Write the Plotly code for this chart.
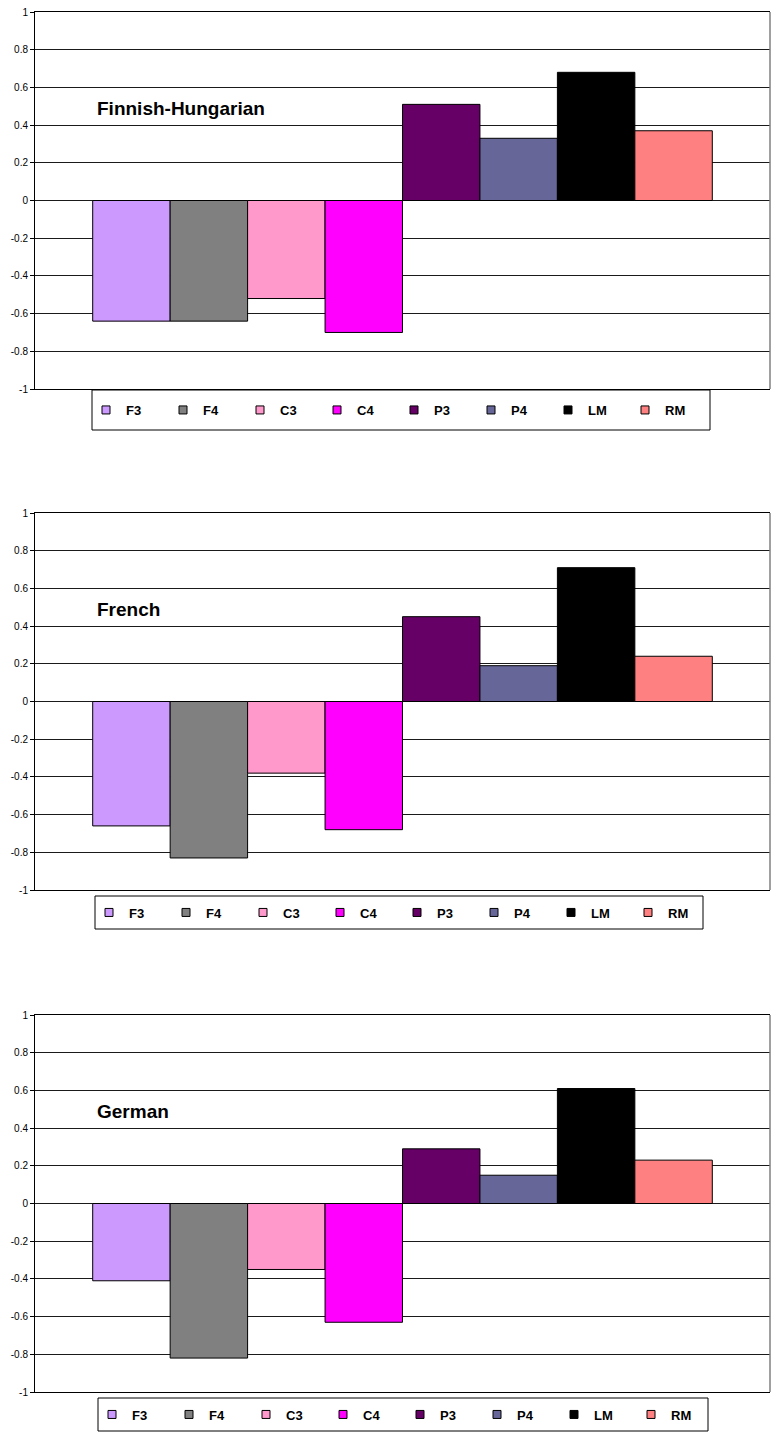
import plotly.graph_objects as go

# Electrode sites and their fill colours
electrodes = ["F3", "F4", "C3", "C4", "P3", "P4", "LM", "RM"]
colors = ["#CC99FF", "#808080", "#FF99CC", "#FF00FF",
          "#660066", "#666699", "#000000", "#FF8080"]

# One panel per language group
languages = ["Finnish-Hungarian", "French", "German"]
finnish_hungarian = [-0.64, -0.64, -0.52, -0.70, 0.51, 0.33, 0.68, 0.37]
french = [-0.66, -0.83, -0.38, -0.68, 0.45, 0.19, 0.71, 0.24]
german = [-0.41, -0.82, -0.35, -0.63, 0.29, 0.15, 0.61, 0.23]
panel_values = [finnish_hungarian, french, german]

tick_values = [-1, -0.8, -0.6, -0.4, -0.2, 0, 0.2, 0.4, 0.6, 0.8, 1]
tick_labels = ["-1", "-0.8", "-0.6", "-0.4", "-0.2", "0",
               "0.2", "0.4", "0.6", "0.8", "1"]

W, H = 773, 1437
PLOT_LEFT, PLOT_RIGHT = 35, 770
PLOT_TOP, PLOT_BOTTOM = 12, 1392

# Pixel rows of each panel (top, bottom)
panel_rows = [(12, 389), (513, 890), (1015, 1392)]
# Legend frames in pixels: (left, top, right, bottom)
legend_frames = [(92, 390, 710, 430), (95, 896, 703, 929), (98, 1398, 708, 1431)]


def fy(px):
    return (PLOT_BOTTOM - px) / (PLOT_BOTTOM - PLOT_TOP)


def fx(px):
    return (px - PLOT_LEFT) / (PLOT_RIGHT - PLOT_LEFT)


FONT = "Arial, 'Liberation Sans', sans-serif"
GRID = "#1a1a1a"

fig = go.Figure()
layout = dict(
    width=W, height=H,
    margin=dict(l=PLOT_LEFT, r=W - PLOT_RIGHT, t=PLOT_TOP, b=H - PLOT_BOTTOM, pad=0),
    paper_bgcolor="white", plot_bgcolor="white",
    barmode="group", bargap=0.157, bargroupgap=0,
    font=dict(family=FONT, color="black"),
    showlegend=True,
)
annotations = []
shapes = []

for i, (lang, vals) in enumerate(zip(languages, panel_values)):
    k = "" if i == 0 else str(i + 1)
    xa, ya = "x" + k, "y" + k
    leg = "legend" + k

    for name, col, v in zip(electrodes, colors, vals):
        fig.add_trace(go.Bar(
            x=[lang], y=[v], name=name, xaxis=xa, yaxis=ya,
            marker=dict(color=col, line=dict(color="black", width=1)),
            showlegend=False, hoverinfo="name+y",
        ))
    # legend keys: small outlined squares
    for name, col in zip(electrodes, colors):
        fig.add_trace(go.Scatter(
            x=[None], y=[None], mode="markers", name=name, xaxis=xa, yaxis=ya,
            marker=dict(symbol="square", size=8, color=col,
                        line=dict(color="black", width=1)),
            legend=leg, showlegend=True,
        ))

    top, bottom = panel_rows[i]
    layout["xaxis" + k] = dict(
        domain=[0, 1], anchor=ya, showticklabels=False, ticks="",
        showgrid=False, showline=True, mirror=True, linecolor="black",
        linewidth=1, zeroline=False, fixedrange=True,
    )
    layout["yaxis" + k] = dict(
        domain=[fy(bottom), fy(top)], anchor=xa, range=[-1, 1],
        tickmode="array", tickvals=tick_values, ticktext=tick_labels,
        ticks="outside", ticklen=4, tickcolor="black", tickwidth=1,
        tickfont=dict(family=FONT, size=10, color="black"),
        showgrid=True, gridcolor=GRID, gridwidth=1,
        zeroline=True, zerolinecolor=GRID, zerolinewidth=1,
        showline=True, linecolor="black", linewidth=1, fixedrange=True,
    )

    l, t, r, b = legend_frames[i]
    layout[leg] = dict(
        orientation="h", x=fx(l - 6), y=fy((t + b) / 2), xref="paper", yref="paper",
        xanchor="left", yanchor="middle",
        bgcolor="rgba(0,0,0,0)", borderwidth=0,
        font=dict(family=FONT, size=13, color="black", weight="bold"),
        entrywidth=32, entrywidthmode="pixels", itemclick=False,
        itemdoubleclick=False,
    )
    # legend frame
    shapes.append(dict(
        type="rect", xref="paper", yref="paper",
        x0=fx(l), x1=fx(r), y0=fy(b), y1=fy(t),
        line=dict(color="black", width=1), fillcolor="rgba(0,0,0,0)", layer="below",
    ))
    annotations.append(dict(
        text="<b>%s</b>" % lang, xref=xa + " domain", yref=ya,
        x=fx(95), y=0.49, xanchor="left", yanchor="middle", showarrow=False,
        font=dict(family=FONT, size=19, color="black"),
    ))
    # grey right edge of the plot frame
    shapes.append(dict(
        type="line", xref=xa + " domain", yref=ya + " domain",
        x0=1, x1=1, y0=0, y1=1, line=dict(color="#808080", width=1.5),
    ))

layout["annotations"] = annotations
layout["shapes"] = shapes
fig.update_layout(**layout)
fig.write_html("out.html")
